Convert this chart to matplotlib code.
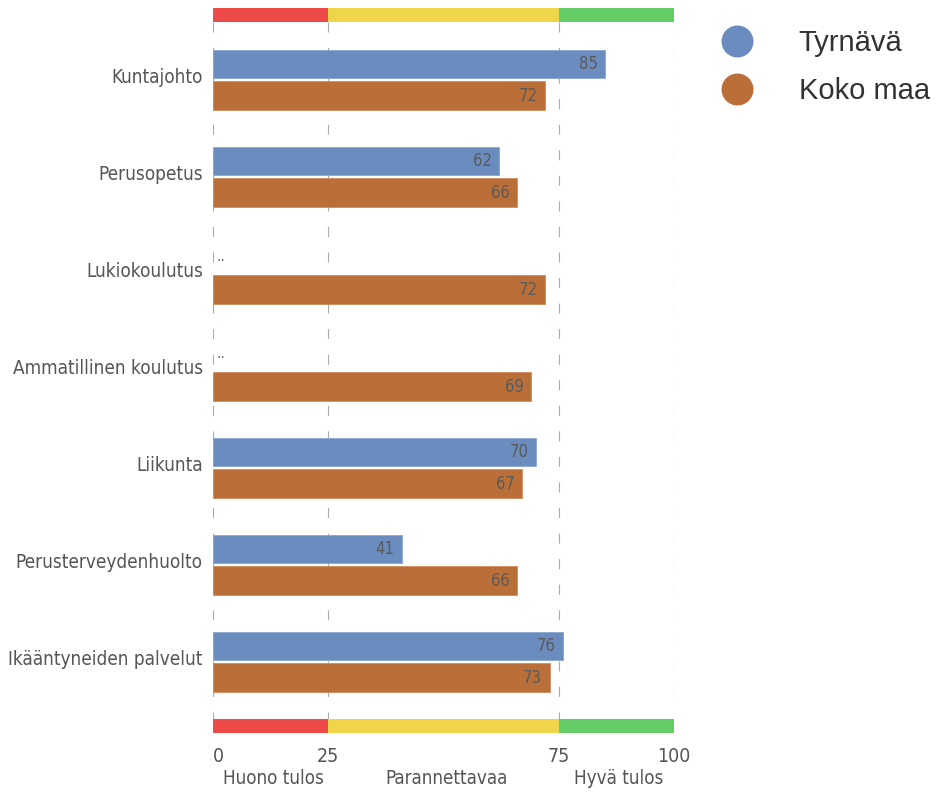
import numpy as np
import matplotlib
matplotlib.use("Agg")
import matplotlib.pyplot as plt
from matplotlib.lines import Line2D

categories = ["Kuntajohto", "Perusopetus", "Lukiokoulutus", "Ammatillinen koulutus",
              "Liikunta", "Perusterveydenhuolto", "Ikääntyneiden palvelut"]
tyrnava = [85, 62, None, None, 70, 41, 76]
koko_maa = [72, 66, 72, 69, 67, 66, 73]
ticks = [0, 25, 75, 100]
zones = [(0, 25, "Huono tulos", "#ee4a4a"), (25, 75, "Parannettavaa", "#f0d44a"),
         (75, 100, "Hyvä tulos", "#66cc66")]

blue = "#6b8cbe"
orange = "#bb6f38"
cond = dict(family="DejaVu Sans", stretch="condensed")

fig = plt.figure(figsize=(9.37, 7.96), dpi=100)
W, H = 937, 796
ax = fig.add_axes([213 / W, 1 - 733 / H, (674 - 213) / W, (733 - 8) / H])
ax.set_xlim(0, 100)
ax.set_ylim((733 - 80) / 97, (8 - 80) / 97)
ax.axis("off")

top0, top1 = (8 - 80) / 97, (22 - 80) / 97
bot0, bot1 = (719 - 80) / 97, (733 - 80) / 97

# dashed guide lines
for t in ticks:
    ax.plot([t, t], [top1, bot0], color="#aaaaaa", lw=0.8, ls=(0, (9, 14)), zorder=1)

# colour zones top and bottom
for a, b, lab, c in zones:
    for y0, y1 in [(top0, top1), (bot0, bot1)]:
        ax.barh((y0 + y1) / 2, b - a, left=a, height=y1 - y0, color=c, zorder=2)

y = np.arange(len(categories))
h = 0.29
for i in range(len(categories)):
    v = tyrnava[i]
    if v is None:
        ax.text(0.8, y[i] - 0.1, "..", fontsize=11, color="#666666", **cond,
                ha="left", va="bottom")
    else:
        ax.barh(y[i] - 0.165, v, height=h, color=blue, edgecolor="#8aa5cf", lw=0.6, zorder=3)
        ax.text(v - 1.6, y[i] - 0.165, str(v), fontsize=12, color="#5a5a5a", **cond,
                ha="right", va="center", zorder=4)
    v = koko_maa[i]
    ax.barh(y[i] + 0.16, v, height=h, color=orange, edgecolor="#cf8c5c", lw=0.6, zorder=3)
    ax.text(v - 1.6, y[i] + 0.16, str(v), fontsize=12, color="#5a5a5a", **cond,
            ha="right", va="center", zorder=4)
    ax.text(-2.2, y[i] - 0.03, categories[i], fontsize=13.6, color="#555555", **cond,
            ha="right", va="center")

# tick labels and zone names under the bottom bar
ty = (757 - 80) / 97
for t in ticks:
    ax.text(t, ty, str(t), fontsize=14, color="#555555", **cond,
            ha="left" if t == 0 else "center", va="center", clip_on=False)
ly = (779 - 80) / 97
for a, b, lab, c in zones:
    ax.text((a + b) / 2 + 0.6, ly, lab, fontsize=13.5, color="#555555", **cond,
            ha="center", va="center", clip_on=False)

handles = [Line2D([], [], ls="", marker="o", markersize=22, color=blue, label="Tyrnävä"),
           Line2D([], [], ls="", marker="o", markersize=22, color=orange, label="Koko maa")]
fig.legend(handles=handles, loc="upper left", bbox_to_anchor=(682 / W, 1 - 3 / H),
           frameon=False, prop={"family": "Liberation Sans", "size": 21},
           labelcolor="#333333", handletextpad=1.1, labelspacing=0.68)

fig.savefig("out.png", dpi=100)
